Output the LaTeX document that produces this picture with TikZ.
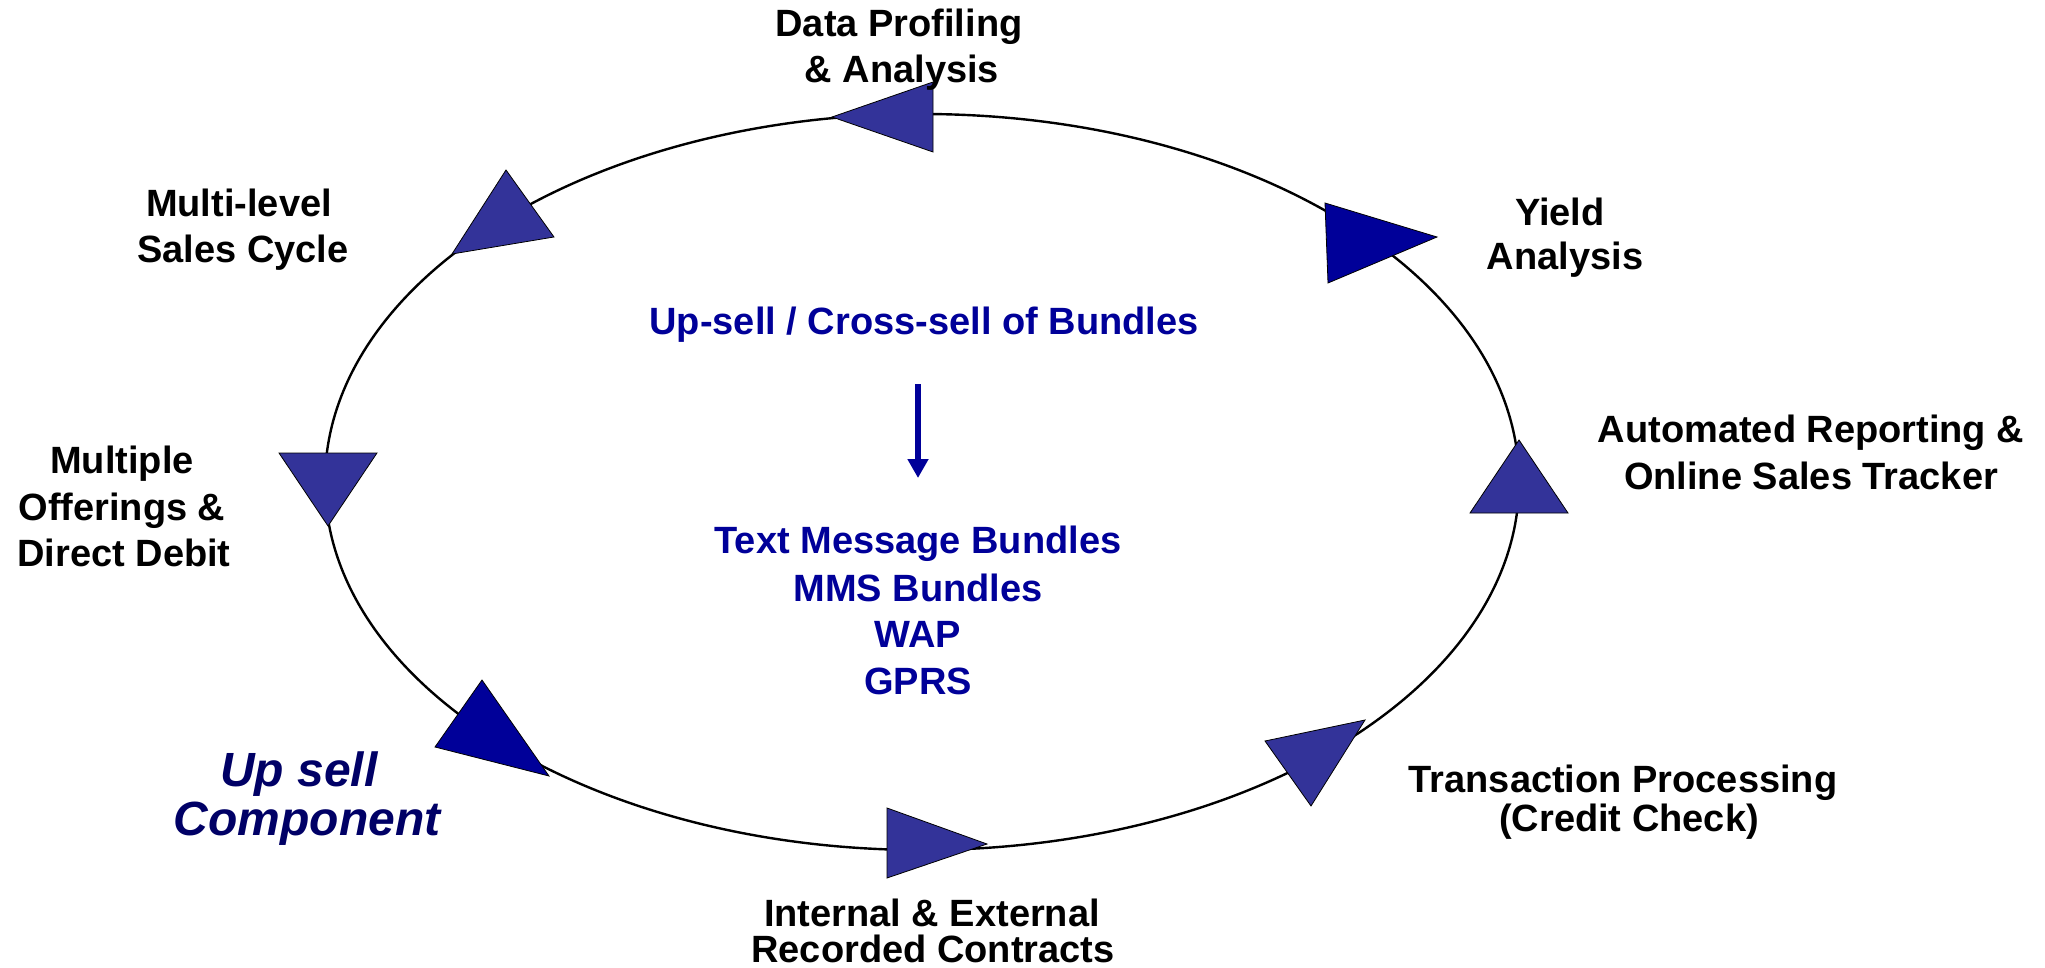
\documentclass[tikz,border=0pt]{standalone}
\usepackage{fontspec}
\setmainfont{Liberation Sans}
\usetikzlibrary{arrows.meta}
\definecolor{triblue}{RGB}{51,51,153}
\definecolor{deepblue}{RGB}{0,0,153}
\definecolor{navytext}{RGB}{0,0,102}
\tikzset{
  lbl/.style={anchor=base, inner sep=0pt, font=\fontsize{19pt}{23pt}\selectfont\bfseries, text=black},
  bluelbl/.style={lbl, text=deepblue},
  upsell/.style={anchor=base, inner sep=0pt, font=\fontsize{24pt}{29pt}\selectfont\bfseries\itshape, text=navytext},
  tri/.style={fill=triblue, draw=black, line width=0.4pt, line join=miter},
  tridark/.style={fill=deepblue, draw=black, line width=0.4pt, line join=miter},
  ring/.style={draw=black, line width=1.2pt},
  flow/.style={draw=deepblue, line width=3pt, -{Triangle[width=10pt,length=9.5pt]}}
}
\begin{document}
\begin{tikzpicture}[x=0.5pt,y=-0.5pt]
\useasboundingbox (0,0) rectangle (2045,968);
% cycle
\draw[ring] (922,482) ellipse [x radius=298.5pt, y radius=184pt];
% direction markers
\filldraw[tri] (832,117) -- (933,82) -- (933,152) -- cycle;
\filldraw[tridark] (1325,203) -- (1437,237) -- (1328,283) -- cycle;
\filldraw[tri] (1519,440) -- (1470,513) -- (1568,513) -- cycle;
\filldraw[tri] (1265,741) -- (1365,720) -- (1311,806) -- cycle;
\filldraw[tri] (987,844) -- (887,808) -- (887,878) -- cycle;
\filldraw[tridark] (482,680) -- (435,747) -- (549,776) -- cycle;
\filldraw[tri] (279,453) -- (377,453) -- (328,526) -- cycle;
\filldraw[tri] (506,170) -- (452,254) -- (554,237) -- cycle;
% labels
\node[lbl] (dp1) at (899,37) {Data Profiling};
\node[lbl] (dp2) at (902,83) {\& Analysis};
\node[lbl] (ml1) at (239,217) {Multi-level};
\node[lbl] (ml2) at (243,263) {Sales Cycle};
\node[lbl] (ya1) at (1560,226) {Yield};
\node[lbl] (ya2) at (1565,270) {Analysis};
\node[lbl] (ar1) at (1811,442) {Automated Reporting \&};
\node[lbl] (ar2) at (1811,489) {Online Sales Tracker};
\node[lbl] (mo1) at (122,473) {Multiple};
\node[lbl] (mo2) at (122,520) {Offerings \&};
\node[lbl] (mo3) at (124,566) {Direct Debit};
\node[lbl] (tp1) at (1623,792) {Transaction Processing};
\node[lbl] (tp2) at (1629,831) {(Credit Check)};
\node[lbl] (ie1) at (932,926) {Internal \& External};
\node[lbl] (ie2) at (933,962) {Recorded Contracts};
\node[upsell] (us1) at (299,786) {Up sell};
\node[upsell] (us2) at (307,835) {Component};
% centre
\node[bluelbl] (head) at (924,335) {Up-sell / Cross-sell of Bundles};
\node[bluelbl] (b1) at (918,553) {Text Message Bundles};
\node[bluelbl] (b2) at (918,601) {MMS Bundles};
\node[bluelbl] (b3) at (918,647) {WAP};
\node[bluelbl] (b4) at (918,694) {GPRS};
\coordinate (arrS) at (918,384);
\coordinate (arrE) at (918,478);
\draw[flow] (arrS) -- (arrE);
\end{tikzpicture}
\end{document}
